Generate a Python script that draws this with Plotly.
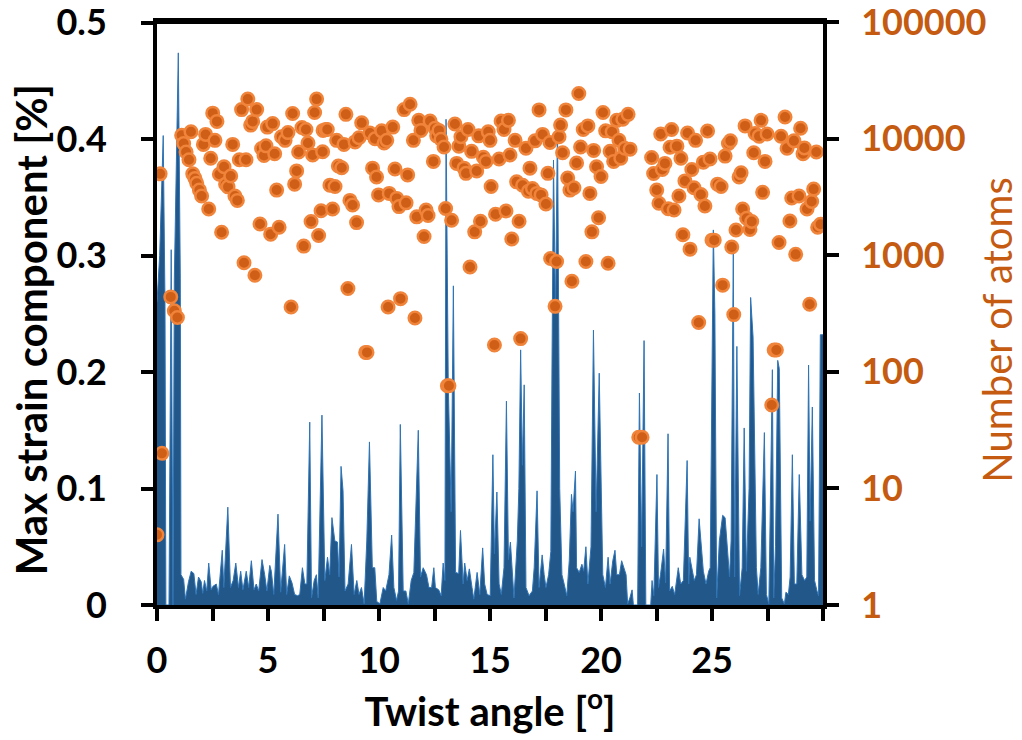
import plotly.graph_objects as go

# strain profile (blue area)
twist_angle = [
    0.00, 0.12, 0.28, 0.36, 0.40, 0.54, 0.64, 0.72, 0.78, 0.96, 1.05, 1.08, 1.20, 1.28, 1.42, 1.54,
    1.66, 1.76, 1.87, 1.99, 2.06, 2.14, 2.24, 2.33, 2.44, 2.52, 2.67, 2.77, 2.94, 3.01, 3.19, 3.31,
    3.43, 3.55, 3.67, 3.77, 3.87, 4.02, 4.13, 4.25, 4.37, 4.47, 4.58, 4.73, 4.85, 4.95, 5.08, 5.15,
    5.26, 5.45, 5.57, 5.75, 5.84, 5.96, 6.08, 6.20, 6.33, 6.43, 6.55, 6.66, 6.75, 6.88, 6.96, 7.08,
    7.18, 7.26, 7.43, 7.56, 7.68, 7.78, 7.88, 8.01, 8.13, 8.20, 8.29, 8.38, 8.47, 8.61, 8.76, 8.88,
    9.00, 9.10, 9.21, 9.33, 9.45, 9.57, 9.70, 9.81, 9.90, 10.04, 10.19, 10.30, 10.45, 10.57, 10.67,
    10.79, 10.88, 10.96, 11.09, 11.21, 11.32, 11.45, 11.57, 11.77, 11.87, 11.99, 12.14, 12.25, 12.37,
    12.47, 12.54, 12.69, 12.80, 12.89, 12.97, 13.02, 13.12, 13.25, 13.35, 13.45, 13.59, 13.67, 13.79,
    13.86, 13.97, 14.07, 14.19, 14.27, 14.42, 14.54, 14.67, 14.76, 14.87, 15.01, 15.13, 15.20, 15.31,
    15.41, 15.51, 15.63, 15.74, 15.83, 15.92, 16.01, 16.08, 16.23, 16.30, 16.38, 16.46, 16.54, 16.62,
    16.76, 16.91, 16.99, 17.12, 17.21, 17.35, 17.44, 17.52, 17.64, 17.74, 17.79, 17.86, 17.95, 18.04,
    18.14, 18.24, 18.34, 18.46, 18.57, 18.67, 18.74, 18.85, 18.90, 19.02, 19.14, 19.22, 19.32, 19.41,
    19.55, 19.66, 19.78, 19.92, 20.08, 20.20, 20.32, 20.41, 20.53, 20.63, 20.71, 20.83, 20.93, 21.02,
    21.13, 21.20, 21.30, 21.40, 21.46, 21.65, 21.73, 21.83, 21.94, 22.02, 22.24, 22.30, 22.38, 22.52,
    22.59, 22.68, 22.82, 22.91, 23.02, 23.09, 23.21, 23.32, 23.48, 23.59, 23.71, 23.88, 23.95, 24.00,
    24.09, 24.20, 24.30, 24.42, 24.50, 24.61, 24.73, 24.85, 24.92, 25.06, 25.13, 25.21, 25.33, 25.48,
    25.59, 25.68, 25.79, 25.86, 25.96, 26.02, 26.12, 26.24, 26.36, 26.45, 26.55, 26.67, 26.74, 26.85,
    26.95, 27.00, 27.08, 27.20, 27.36, 27.45, 27.56, 27.72, 27.78, 27.86, 27.96, 28.03, 28.14, 28.26,
    28.33, 28.44, 28.52, 28.62, 28.71, 28.82, 28.93, 29.05, 29.17, 29.27, 29.35, 29.42, 29.52, 29.62,
    29.73, 29.80, 29.88, 30.00,
]
max_strain = [
    0.26, 0.30, 0.403, 0.26, 0.0, 0.0, 0.305, 0.0, 0.28, 0.474, 0.28, 0.026, 0.022, 0.005, 0.020, 0.029,
    0.027, 0.009, 0.024, 0.020, 0.010, 0.021, 0.012, 0.036, 0.013, 0.016, 0.018, 0.009, 0.047, 0.015, 0.084, 0.015,
    0.021, 0.036, 0.015, 0.029, 0.013, 0.029, 0.015, 0.038, 0.013, 0.018, 0.012, 0.039, 0.026, 0.012, 0.034, 0.029,
    0.009, 0.078, 0.011, 0.052, 0.009, 0.025, 0.019, 0.009, 0.008, 0.009, 0.032, 0.018, 0.018, 0.157, 0.006, 0.021,
    0.026, 0.006, 0.163, 0.021, 0.041, 0.026, 0.075, 0.055, 0.054, 0.024, 0.119, 0.098, 0.012, 0.018, 0.052, 0.009,
    0.021, 0.009, 0.015, 0.001, 0.055, 0.140, 0.032, 0.032, 0.003, 0.001, 0.015, 0.012, 0.026, 0.060, 0.015,
    0.004, 0.012, 0.155, 0.012, 0.012, 0.001, 0.021, 0.028, 0.150, 0.024, 0.032, 0.026, 0.015, 0.015,
    0.032, 0.015, 0.013, 0.008, 0.036, 0.021, 0.417, 0.19, 0.08, 0.274, 0.028, 0.027, 0.064, 0.018,
    0.036, 0.021, 0.031, 0.015, 0.005, 0.028, 0.009, 0.049, 0.018, 0.009, 0.008, 0.129, 0.044, 0.097,
    0.018, 0.009, 0.032, 0.175, 0.039, 0.054, 0.026, 0.006, 0.055, 0.10, 0.219, 0.12, 0.189, 0.015,
    0.008, 0.012, 0.032, 0.098, 0.015, 0.043, 0.026, 0.015, 0.026, 0.046, 0.20, 0.382, 0.25, 0.417,
    0.10, 0.026, 0.018, 0.008, 0.038, 0.095, 0.08, 0.115, 0.032, 0.028, 0.035, 0.029, 0.050, 0.018,
    0.05, 0.236, 0.08, 0.199, 0.026, 0.015, 0.041, 0.018, 0.038, 0.047, 0.026, 0.026, 0.038, 0.032,
    0.026, 0.001, 0.006, 0.013, 0.0, 0.0, 0.182, 0.05, 0.227, 0.0, 0.0, 0.021, 0.008, 0.112,
    0.015, 0.026, 0.048, 0.019, 0.147, 0.012, 0.016, 0.009, 0.032, 0.018, 0.021, 0.124, 0.018, 0.041,
    0.032, 0.021, 0.026, 0.074, 0.055, 0.029, 0.018, 0.029, 0.032, 0.322, 0.25, 0.006, 0.055, 0.077,
    0.075, 0.055, 0.024, 0.055, 0.305, 0.024, 0.222, 0.008, 0.032, 0.152, 0.029, 0.10, 0.264, 0.23,
    0.10, 0.032, 0.009, 0.032, 0.148, 0.009, 0.001, 0.202, 0.006, 0.05, 0.210, 0.203, 0.006, 0.001,
    0.011, 0.009, 0.024, 0.129, 0.018, 0.018, 0.112, 0.026, 0.021, 0.024, 0.206, 0.072, 0.170, 0.021,
    0.012, 0.008, 0.232, 0.232,
]

# number of atoms in each cell (orange dots)
atom_angle = [
    0.00, 0.22, 0.14, 0.62, 0.78, 0.92, 1.11, 1.20, 1.31, 1.44, 1.53, 1.61, 1.71, 1.79, 1.91, 2.01,
    2.09, 2.19, 2.33, 2.42, 2.51, 2.61, 2.70, 2.81, 2.91, 3.02, 3.09, 3.20, 3.32, 3.41, 3.51, 3.62,
    3.71, 3.81, 3.92, 4.01, 4.09, 4.22, 4.31, 4.41, 4.49, 4.64, 4.71, 4.82, 4.91, 4.97, 5.12, 5.21,
    5.30, 5.39, 5.50, 5.61, 5.77, 5.90, 6.04, 6.11, 6.20, 6.29, 6.38, 6.53, 6.61, 6.71, 6.80, 6.94,
    7.01, 7.10, 7.19, 7.28, 7.39, 7.46, 7.48, 7.60, 7.67, 7.79, 7.91, 8.02, 8.09, 8.17, 8.32, 8.42,
    8.51, 8.60, 8.69, 8.81, 8.92, 8.99, 9.10, 9.22, 9.40, 9.46, 9.59, 9.71, 9.82, 9.89, 9.98, 10.12,
    10.23, 10.35, 10.41, 10.46, 10.62, 10.72, 10.80, 10.90, 10.97, 11.13, 11.22, 11.29, 11.40, 11.55,
    11.62, 11.70, 11.79, 11.89, 12.03, 12.12, 12.21, 12.30, 12.45, 12.52, 12.60, 12.70, 12.79, 12.93,
    13.00, 13.08, 13.15, 13.27, 13.42, 13.50, 13.60, 13.69, 13.83, 13.92, 14.01, 14.10, 14.17, 14.31,
    14.40, 14.49, 14.57, 14.70, 14.82, 14.92, 15.00, 15.05, 15.20, 15.25, 15.41, 15.50, 15.63, 15.72,
    15.83, 15.90, 15.98, 16.13, 16.20, 16.31, 16.38, 16.47, 16.62, 16.73, 16.80, 16.91, 17.03, 17.11,
    17.21, 17.30, 17.37, 17.52, 17.61, 17.70, 17.73, 17.93, 18.00, 18.11, 18.18, 18.27, 18.42, 18.50,
    18.60, 18.69, 18.78, 18.90, 19.00, 19.08, 19.20, 19.32, 19.41, 19.50, 19.59, 19.67, 19.80, 19.89,
    20.00, 20.09, 20.21, 20.32, 20.41, 20.50, 20.57, 20.71, 20.81, 20.89, 20.98, 21.07, 21.22, 21.31,
    21.70, 21.85, 22.28, 22.37, 22.51, 22.61, 22.69, 22.76, 22.88, 23.03, 23.11, 23.18, 23.29, 23.42,
    23.51, 23.60, 23.69, 23.78, 23.90, 24.01, 24.09, 24.19, 24.26, 24.40, 24.50, 24.61, 24.68, 24.80,
    24.91, 25.00, 25.10, 25.25, 25.41, 25.48, 25.59, 25.74, 25.83, 25.89, 25.98, 26.08, 26.22, 26.31,
    26.38, 26.49, 26.56, 26.71, 26.79, 26.88, 26.94, 27.12, 27.21, 27.28, 27.39, 27.48, 27.69, 27.80,
    27.90, 28.02, 28.11, 28.29, 28.38, 28.51, 28.59, 28.69, 28.77, 28.92, 28.99, 29.10, 29.16, 29.28,
    29.40, 29.49, 29.58, 29.70, 29.76, 29.89,
]
atom_count = [
    4, 20, 5000, 440, 335, 293, 10700, 9100, 7700, 6600, 11500, 5000, 4570, 4150, 3630, 3230,
    8950, 10900, 2500, 6800, 16600, 9700, 14100, 4970, 1580, 5750, 4080, 3870, 4790, 8950, 3230, 2960,
    6600, 17800, 865, 6600, 21900, 13100, 14100, 675, 17800, 1860, 8250, 7200, 8700, 12600, 1520, 13500,
    7450, 3630, 1740, 10400, 9700, 11300, 360, 16500, 4080, 5300, 7700, 12500, 1200, 12000, 9200, 1950,
    7250, 16800, 21900, 1480, 2410, 7750, 11800, 12000, 12000, 4000, 2500, 3900, 9700, 5850, 5650, 8950,
    16200, 520, 2960, 2700, 9400, 1910, 10200, 13700, 147, 147, 11200, 5600, 10000, 4700, 3300, 11700,
    9200, 9700, 360, 3400, 12600, 5500, 3080, 2620, 425, 17800, 2820, 4900, 19800, 9700,
    290, 2140, 14400, 11800, 1450, 2450, 2200, 14200, 6400, 12300, 10600, 11800, 9900, 8500,
    2520, 76, 76, 2000, 13400, 6150, 8650, 10400, 5600, 5050, 12000, 795, 7800, 1590,
    5300, 10600, 1960, 6950, 6400, 11500, 9700, 3900, 170, 2250, 6700, 14200, 12000, 2400,
    14400, 7250, 1380, 9700, 4270, 1960, 193, 3990, 8300, 3550, 5600, 3740, 9600, 3400,
    17700, 3300, 10900, 2760, 5050, 9300, 940, 365, 885, 10400, 13100, 7600, 17700, 4600,
    3630, 600, 3800, 6200, 24500, 8500, 12000, 885, 12900, 3400, 1590, 7950, 5750, 2100,
    4750, 16800, 11700, 855, 7800, 11500, 6400, 14400, 9700, 6800, 14700, 8300, 16200, 8150,
    27.5, 27.5, 6900, 5030, 3630, 2800, 11000, 5450, 6150, 2510, 8450, 12000, 2450, 8650,
    3230, 6800, 1500, 4350, 11200, 1130, 5450, 3800, 9700, 265, 3330, 6300, 2650, 11650,
    6700, 1350, 1350, 4080, 3900, 555, 7100, 9100, 9600, 1180, 310, 1650, 4700, 5100,
    2500, 12900, 2080, 1670, 1950, 7600, 11100, 10500, 14400, 3470, 6400, 11000, 52, 154,
    154, 1290, 10500, 15400, 8300, 1970, 3100, 9600, 1020, 3230, 12300, 7450, 8350, 2500,
    380, 2900, 3700, 7700, 1740, 1850,
]

x_ticks = [0, 5, 10, 15, 20, 25]
x_minor_ticks = [0, 2.5, 5, 7.5, 10, 12.5, 15, 17.5, 20, 22.5, 25, 27.5, 30]
strain_ticks = [0, 0.1, 0.2, 0.3, 0.4, 0.5]
strain_tick_labels = ['0', '0.1', '0.2', '0.3', '0.4', '0.5']
atom_ticks = [1, 10, 100, 1000, 10000, 100000]
atom_tick_labels = ['1', '10', '100', '1000', '10000', '100000']

orange = '#C55A11'
tick_font = dict(family='Lato', size=36, color='black', weight='bold')

fig = go.Figure()

# blue strain area
fig.add_trace(go.Scatter(
    x=twist_angle, y=max_strain,
    mode='lines', fill='tozeroy',
    fillcolor='#22578A',
    line=dict(color='#2F74B5', width=1),
    yaxis='y'
))

# orange dots on the log axis
fig.add_trace(go.Scatter(
    x=atom_angle, y=atom_count,
    mode='markers',
    marker=dict(size=12.5, color='#CF5F16', line=dict(color='#F0843A', width=2.5)),
    yaxis='y2'
))

axis_common = dict(
    showline=True, linecolor='black', linewidth=4,
    ticks='outside', ticklen=12, tickwidth=4, tickcolor='black',
    showgrid=False, zeroline=False, automargin=False,
    ticklabeloverflow='allow',
)

fig.update_layout(
    width=1022, height=740,
    margin=dict(l=157, r=199, t=22, b=135),
    paper_bgcolor='white', plot_bgcolor='white',
    showlegend=False,
    xaxis=dict(
        range=[0, 30], tickvals=x_ticks, mirror=True,
        minor=dict(tickvals=x_minor_ticks, ticks='outside', ticklen=12, tickwidth=4, tickcolor='black'),
        tickfont=tick_font, ticklabelstandoff=9,
        title=dict(text='Twist angle [<sup>o</sup>]',
                   font=dict(family='Lato', size=40, color='black', weight='bold'), standoff=12),
        **axis_common,
    ),
    yaxis=dict(
        range=[0, 0.5005], tickvals=strain_ticks, ticktext=strain_tick_labels,
        tickfont=tick_font, ticklabelstandoff=27,
        **axis_common,
    ),
    yaxis2=dict(
        type='log', range=[0, 5.002], overlaying='y', side='right',
        tickvals=atom_ticks, ticktext=atom_tick_labels,
        tickfont=dict(family='Lato', size=36, color=orange, weight='bold'),
        ticklabelstandoff=15,
        **axis_common,
    ),
    # y titles sit a little below the middle of the frame, as in the original
    annotations=[
        dict(text='Max strain component [%]', xref='paper', yref='paper',
             x=-0.19, y=0.472, xanchor='center', yanchor='middle', textangle=-90,
             showarrow=False, font=dict(family='Lato', size=42, color='black', weight='bold')),
        dict(text='Number of atoms', xref='paper', yref='paper',
             x=1.261, y=0.472, xanchor='center', yanchor='middle', textangle=-90,
             showarrow=False, font=dict(family='Lato', size=40, color=orange)),
    ],
    # top edge of the frame
    shapes=[dict(type='line', xref='paper', yref='paper', x0=0, x1=1, y0=1, y1=1,
                 line=dict(color='black', width=4))],
)

# the page has a default body margin; drop it so the figure sits at the window corner
fig.write_html('out.html', config={'displayModeBar': False},
               post_script="document.body.style.margin='0px';")
